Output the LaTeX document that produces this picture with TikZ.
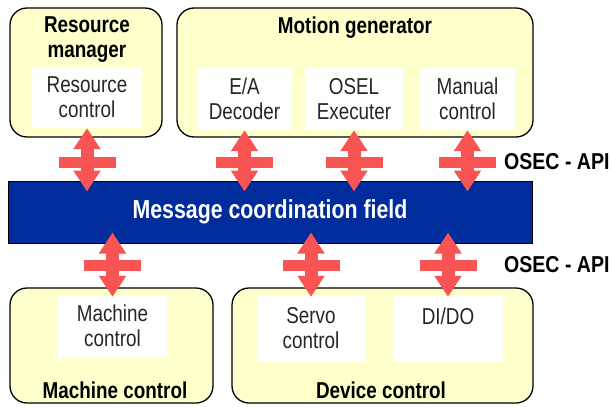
\documentclass[tikz,border=0pt]{standalone}
\usepackage{fontspec}
\setmainfont[FakeStretch=0.82]{Liberation Sans}
\newfontfamily\apifont[FakeStretch=0.85]{Liberation Sans}
\usetikzlibrary{positioning,arrows.meta,calc}

\definecolor{paleyellow}{RGB}{255,255,204}
\definecolor{fieldblue}{RGB}{0,45,155}
\definecolor{apired}{RGB}{248,84,84}

\begin{document}
\begin{tikzpicture}[x=1pt, y=-1pt,
    every node/.append style={font=\fontsize{23}{25}\selectfont, inner sep=0pt},
    group/.style={draw=black, line width=1.3pt, fill=paleyellow, rounded corners=17pt},
    module/.style={fill=white, align=center, text=black!85},
    grouptitle/.style={font=\fontsize{23}{25}\selectfont\bfseries, align=center},
    field/.style={draw=black, line width=1pt, fill=fieldblue, text=white,
                  font=\fontsize{26}{28}\selectfont\bfseries},
    apilabel/.style={anchor=west, font=\apifont\fontsize{23}{25}\selectfont\bfseries},
    api/.style={apired, line width=13pt,
                {Triangle[width=26pt,length=21pt]}-{Triangle[width=26pt,length=21pt]}},
    crossbar/.style={fill=apired, minimum width=57pt, minimum height=11pt}]
    \useasboundingbox (0,0) rectangle (611,407);

    \node[group, minimum width=152pt, minimum height=129pt] (ResourceManager) at (86,72.5) {};
    \node[group, minimum width=356pt, minimum height=129pt] (MotionGenerator) at (355,72.5) {};
    \node[group, minimum width=203pt, minimum height=115pt] (MachineGroup) at (111.5,345.5) {};
    \node[group, minimum width=301pt, minimum height=115pt] (DeviceControl) at (382.5,345.5) {};

    \node[grouptitle] (ResourceManagerTitle) at (87,39.7) {Resource\\manager};
    \node[grouptitle, anchor=base] (MotionGeneratorTitle) at (355,33) {Motion generator};
    \node[grouptitle] (MachineGroupTitle) at (115,390) {Machine control};
    \node[grouptitle] (DeviceControlTitle) at (381,390) {Device control};

    \node[module, minimum width=110pt, minimum height=61pt] (ResourceControl) at (87,97.5) {Resource\\control};
    \node[module, minimum width=95pt, minimum height=62pt] (Decoder) at (244.5,99) {E/A\\Decoder};
    \node[module, minimum width=98pt, minimum height=62pt] (Executer) at (354,99) {OSEL\\Executer};
    \node[module, minimum width=95pt, minimum height=62pt] (ManualControl) at (467.5,99) {Manual\\control};
    \node[module, minimum width=109pt, minimum height=62pt] (MachineModule) at (112.5,326) {Machine\\control};
    \node[module, minimum width=108pt, minimum height=67pt] (ServoControl) at (311,328.5) {Servo\\control};
    \node[module, minimum width=110pt, minimum height=67pt] (DIDO) at (448,328.5) {DI/DO\\\phantom{control}};

    \node[field, minimum width=524pt, minimum height=62pt] (Message) at (270,212) {Message coordination field};

    \node[apilabel] (TopOSEC) at (504,162) {OSEC - API};
    \node[apilabel] (BottomOSEC) at (504,265) {OSEC - API};

    \foreach \m in {ResourceControl,Decoder,Executer,ManualControl} {
      \draw[api, shorten >=-11pt] (\m.south) -- (\m.south |- Message.north);
      \node[crossbar] at (\m.south |- TopOSEC.west) {};
    }
    \foreach \m in {MachineModule,ServoControl,DIDO} {
      \draw[api, shorten <=-11pt, shorten >=-2pt] (\m.north |- Message.south) -- (\m.north);
      \node[crossbar] at (\m.north |- BottomOSEC.west) {};
    }
\end{tikzpicture}
\end{document}
